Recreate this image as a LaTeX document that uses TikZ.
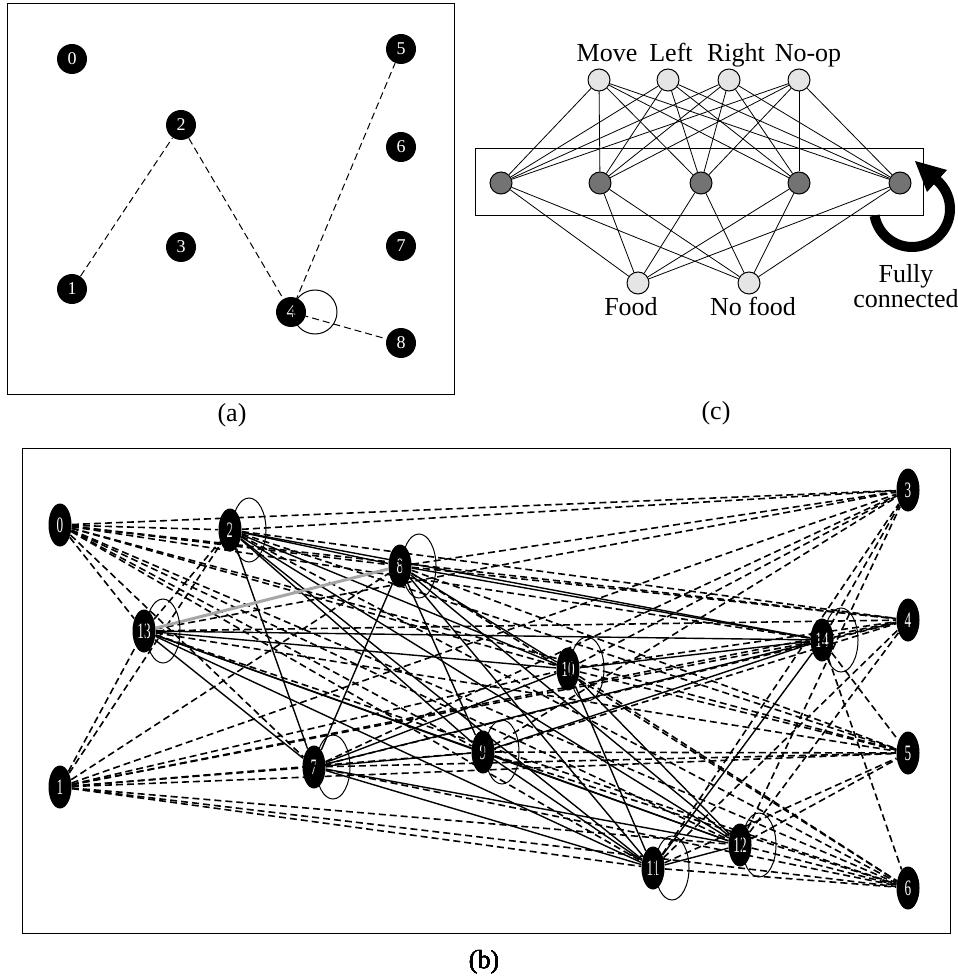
\documentclass[tikz,border=0pt]{standalone}
\usepackage{fontspec}
\setmainfont{Liberation Serif}
\usepackage{graphicx}
\usetikzlibrary{shapes.geometric}

\tikzset{
  gridnode/.style={circle,fill=black,text=white,inner sep=0pt,minimum size=15pt,
    font=\fontsize{9}{9}\selectfont},
  netnode/.style={ellipse,fill=black,text=white,inner sep=0pt,minimum width=11.5pt,
    minimum height=21.5pt,font=\fontsize{11}{11}\selectfont},
  unitin/.style={circle,draw=black,fill=black!10,line width=0.5pt,inner sep=0pt,minimum size=11pt},
  unithid/.style={circle,draw=black,fill=black!55,line width=0.5pt,inner sep=0pt,minimum size=11pt},
  pathlink/.style={line width=0.5pt,dash pattern=on 3.5pt off 2pt},
  inlink/.style={line width=0.8pt,dash pattern=on 3.5pt off 2pt},
  reclink/.style={line width=0.7pt},
  unitlink/.style={line width=0.4pt},
  caption/.style={font=\fontsize{13}{13}\selectfont,inner sep=0pt},
}
\newcommand{\thin}[1]{\scalebox{0.6}[1]{#1}}
\newcommand{\selfring}[1]{\draw[line width=0.5pt] ([xshift=9.5pt]#1.center) ellipse [x radius=8.5pt,y radius=16pt];}

\begin{document}
\begin{tikzpicture}[x=0.5pt,y=-0.5pt]
            \useasboundingbox (0,0) rectangle (957,978);

            % Panel (a): grid world
            \draw [line width=0.5pt] (7,4) rectangle (454,394);
            \node [gridnode] (a0) at (72,59) {0};
            \node [gridnode] (a1) at (72,289) {1};
            \node [gridnode] (a2) at (181,125) {2};
            \node [gridnode] (a3) at (181,247) {3};
            \node [gridnode] (a4) at (291,312) {4};
            \node [gridnode] (a5) at (401,49) {5};
            \node [gridnode] (a6) at (401,147) {6};
            \node [gridnode] (a7) at (401,246) {7};
            \node [gridnode] (a8) at (401,343) {8};
            \draw [pathlink] (a1) -- (a2);
            \draw [pathlink] (a2) -- (a4);
            \draw [pathlink] (a4.center) -- (a5);
            \draw [pathlink] (a4.center) -- (a8);
            \draw [line width=0.5pt] ([xshift=12pt]a4.center) circle (11pt);
            \node [caption] (capa) at (232,415) {(a)};

            % Panel (c): network of units
            \node [unitin] (mv) at (599,80) {};
            \node [unitin] (lf) at (668,80) {};
            \node [unitin] (rt) at (729,80) {};
            \node [unitin] (np) at (799,80) {};
            \node [caption,anchor=base] at (607,62) {Move};
            \node [caption,anchor=base] at (671,62) {Left};
            \node [caption,anchor=base] at (736,62) {Right};
            \node [caption,anchor=base] at (808,62) {No-op};
            \draw [line width=0.5pt] (475,149) rectangle (923,216);
            \foreach \n/\x in {1/501,2/600,3/701,4/799,5/900}
              \node [unithid] (h\n) at (\x,183) {};
            \node [unitin] (fd) at (638,283) {};
            \node [unitin] (nf) at (749,283) {};
            \node [caption,anchor=base] at (631,315) {Food};
            \node [caption,anchor=base] at (753,315) {No food};
            \foreach \t in {mv,lf,rt,np}
              \foreach \n in {1,...,5}
                \draw [unitlink] (\t) -- (h\n);
            \foreach \b in {fd,nf}
              \foreach \n in {1,...,5}
                \draw [unitlink] (\b) -- (h\n);
            % loop arrow
            \draw [line width=5pt] (912,209) ++(-170:19pt) arc [start angle=-170,end angle=50,radius=19pt];
            \fill (915,161) -- (947,170) -- (927,192) -- cycle;
            \node [caption,align=center,font=\fontsize{13}{10}\selectfont] (fc) at (906,286) {Fully\\connected};
            \node [caption] (capc) at (716,413) {(c)};

            % Panel (b): evolved network
            \draw [line width=0.5pt] (22,448) rectangle (950,933);
            \node [netnode] (b0) at (60,525) {\thin{0}};
            \node [netnode] (b1) at (60,787) {\thin{1}};
            \node [netnode] (b2) at (230,530) {\thin{2}};
            \node [netnode] (b13) at (144,631) {\thin{13}};
            \node [netnode] (b8) at (400,566) {\thin{8}};
            \node [netnode] (b7) at (314,767) {\thin{7}};
            \node [netnode] (b10) at (568,669) {\thin{10}};
            \node [netnode] (b9) at (483,752) {\thin{9}};
            \node [netnode] (b14) at (822,640) {\thin{14}};
            \node [netnode] (b11) at (653,868) {\thin{11}};
            \node [netnode] (b12) at (740,845) {\thin{12}};
            \node [netnode] (b3) at (908,490) {\thin{3}};
            \node [netnode] (b4) at (908,620) {\thin{4}};
            \node [netnode] (b5) at (908,753) {\thin{5}};
            \node [netnode] (b6) at (908,888) {\thin{6}};

            % inputs to hidden and outputs
            \foreach \i in {0,1}
              \foreach \j in {2,13,8,7,10,9,14,11,12,3,4,5,6}
                \draw [inlink] (b\i) -- (b\j);
            % hidden to outputs
            \foreach \i in {2,13,8,7,10,9,14,11,12}
              \foreach \j in {3,4,5,6}
                \draw [inlink] (b\i) -- (b\j);
            \draw [inlink] (b13) -- (b2);
            % recurrent links
            \foreach \i/\j in {2/8,2/7,2/10,2/9,2/11,2/12,2/14,13/14,13/10,13/9,13/12,13/7,13/11,
                               8/7,8/9,8/10,8/11,8/12,8/14,7/9,7/10,7/14,7/12,7/11,9/12,9/11,9/14,
                               10/14,10/11,10/12,11/14,11/12}
              \draw [reclink] (b\i) -- (b\j);
            \draw [line width=1.5pt,black!35] (b13) -- (b8);
            \foreach \h in {b2,b13,b8,b7,b10,b9,b14,b11,b12}
              \selfring{\h}
            \node [caption] (capb) at (484,962) {(b)};
\end{tikzpicture}
\end{document}
